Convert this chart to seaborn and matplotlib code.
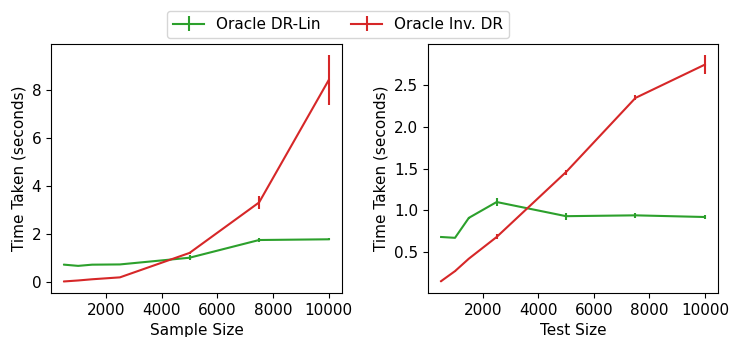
import numpy as np
import seaborn as sns
import matplotlib
matplotlib.use("Agg")
import matplotlib.pyplot as plt

plt.rcParams['font.family'] = ['DejaVu Sans']

## DATA
sizes = [500, 1000, 1500, 2500, 5000, 7500, 10000]

# left : sample size
lin_sample = [0.71, 0.66, 0.71, 0.72, 1.00, 1.74, 1.77]
lin_sample_err = [0.01, 0.01, 0.01, 0.02, 0.10, 0.07, 0.05]
inv_sample = [0.01, 0.05, 0.10, 0.18, 1.20, 3.31, 8.42]
inv_sample_err = [0.005, 0.01, 0.01, 0.02, 0.05, 0.28, 1.03]

# right : test size
lin_test = [0.68, 0.67, 0.91, 1.10, 0.93, 0.94, 0.92]
lin_test_err = [0.005, 0.005, 0.01, 0.05, 0.04, 0.03, 0.02]
inv_test = [0.15, 0.27, 0.42, 0.68, 1.46, 2.35, 2.75]
inv_test_err = [0.005, 0.005, 0.01, 0.03, 0.03, 0.03, 0.11]

labels = ["Oracle DR-Lin", "Oracle Inv. DR"]
xlabels = ["Sample Size", "Test Size"]

pal = sns.color_palette("tab10")
green, red = pal[2], pal[3]

fig = plt.figure(figsize=(7.29, 3.37), dpi=100)
ax1 = fig.add_axes([0.070, 0.131, 0.399, 0.738])
ax2 = fig.add_axes([0.587, 0.131, 0.398, 0.738])

panels = [
    (ax1, lin_sample, lin_sample_err, inv_sample, inv_sample_err),
    (ax2, lin_test, lin_test_err, inv_test, inv_test_err),
]

for i, (ax, lin, lin_e, inv, inv_e) in enumerate(panels):
    ax.errorbar(sizes, lin, yerr=lin_e, color=green, label=labels[0])
    ax.errorbar(sizes, inv, yerr=inv_e, color=red, label=labels[1])
    ax.set_xlabel(xlabels[i], fontsize=11)
    ax.set_ylabel("Time Taken (seconds)", fontsize=11)
    ax.set_xticks([2000, 4000, 6000, 8000, 10000])
    ax.tick_params(labelsize=11)

ax2.set_yticks([0.5, 1.0, 1.5, 2.0, 2.5])

handles, labs = ax1.get_legend_handles_labels()
fig.legend(handles, labs, loc="upper center", bbox_to_anchor=(0.464, 0.99),
           ncol=2, fontsize=11)

plt.savefig("out.png", dpi=100)
